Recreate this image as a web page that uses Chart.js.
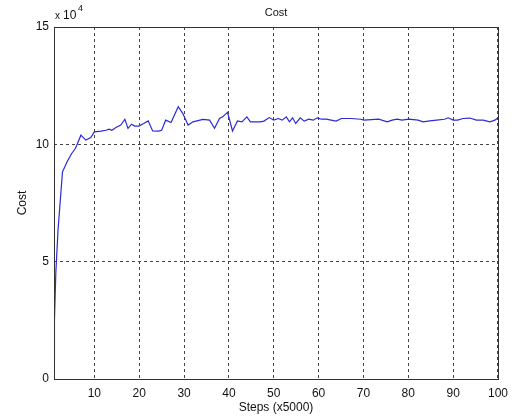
<!DOCTYPE html>
<html>
<head>
<meta charset="utf-8">
<title>Cost</title>
<script src="https://cdn.jsdelivr.net/npm/chart.js@4.4.0/dist/chart.umd.min.js"></script>
<style>
  html, body { margin: 0; padding: 0; background: #fff; }
  canvas { display: block; }
</style>
</head>
<body>
<canvas id="graficoCusto" width="515" height="419"></canvas>
<script>
// Passos (x5000) e custo (x 10^4)
const passos = [
  1.0, 1.1, 1.4, 1.9, 2.4, 2.9, 3.9, 4.9, 5.8, 7.0,
  8.1, 9.2, 10.0, 11.5, 12.6, 13.3, 13.9, 14.8, 15.9, 16.8,
  17.5, 18.3, 19.0, 19.9, 21.0, 22.0, 23.0, 24.3, 25.0, 25.9,
  27.1, 28.7, 29.7, 30.9, 32.0, 34.2, 35.7, 36.8, 37.9, 38.6,
  39.7, 40.8, 41.9, 42.9, 44.0, 44.8, 47.0, 47.8, 49.0, 50.0,
  51.0, 51.9, 52.8, 53.5, 54.2, 54.9, 55.9, 56.8, 57.8, 58.8,
  59.7, 60.6, 61.7, 62.8, 63.9, 65.1, 67.2, 69.4, 70.1, 73.4,
  75.3, 76.4, 77.5, 78.6, 80.1, 82.2, 83.3, 84.8, 86.3, 88.1,
  88.9, 90.0, 91.0, 92.2, 93.7, 95.2, 96.7, 98.2, 99.3, 100.0
];
const custo = [
  0.80, 2.50, 4.50, 6.35, 7.60, 8.83, 9.25, 9.60, 9.83, 10.39,
  10.18, 10.29, 10.53, 10.56, 10.60, 10.65, 10.60, 10.72, 10.82, 11.07,
  10.68, 10.86, 10.78, 10.78, 10.89, 11.00, 10.57, 10.56, 10.60, 11.03,
  10.93, 11.60, 11.32, 10.82, 10.96, 11.06, 11.03, 10.68, 11.10, 11.17,
  11.36, 10.57, 11.00, 10.96, 11.17, 10.96, 10.96, 10.99, 11.14, 11.03,
  11.10, 11.03, 11.17, 10.96, 11.13, 10.89, 11.13, 10.99, 11.07, 11.03,
  11.13, 11.07, 11.07, 11.03, 10.99, 11.10, 11.10, 11.07, 11.03, 11.07,
  10.96, 11.03, 11.07, 11.03, 11.07, 11.03, 10.96, 11.00, 11.03, 11.07,
  11.13, 11.03, 11.03, 11.10, 11.12, 11.03, 11.03, 10.96, 11.03, 11.13
];
const ticksX = [10, 20, 30, 40, 50, 60, 70, 80, 90, 100];
const ticksY = [0, 5, 10, 15];

document.addEventListener("DOMContentLoaded", function () {
  const ctx = document.getElementById("graficoCusto").getContext("2d");
  const familia = "'Liberation Sans', Arial, sans-serif";
  const fonte = { family: familia, size: 12 };

  // Moldura do eixo, título e expoente "x 10^4" (estilo MATLAB)
  const moldura = {
    id: "moldura",
    afterDatasetsDraw(chart) {
      const { ctx, chartArea: a } = chart;
      ctx.save();
      ctx.setLineDash([]);
      ctx.strokeStyle = "#333";
      ctx.lineWidth = 1;
      ctx.strokeRect(a.left + 0.5, a.top + 0.5, a.right - a.left, a.bottom - a.top);

      ctx.fillStyle = "#111";
      ctx.textBaseline = "alphabetic";
      ctx.textAlign = "center";
      ctx.font = "11px " + familia;
      ctx.fillText("Cost", (a.left + a.right) / 2, 16);

      ctx.textAlign = "left";
      ctx.font = "10px " + familia;
      ctx.fillText("x", a.left + 1, 19);
      ctx.font = "12px " + familia;
      ctx.fillText("10", a.left + 9, 19);
      ctx.font = "9px " + familia;
      ctx.fillText("4", a.left + 24, 11);
      ctx.restore();
    },
  };

  const dados = passos.map((p, i) => ({ x: p, y: custo[i] }));

  new Chart(ctx, {
    type: "line",
    data: {
      datasets: [
        {
          label: "Cost",
          data: dados,
          borderColor: "#2a2ad8",
          borderWidth: 1.2,
          pointRadius: 0,
          tension: 0,
          fill: false,
        },
      ],
    },
    options: {
      responsive: false,
      animation: false,
      layout: { padding: { top: 27, right: 11, bottom: 0, left: 0 } },
      plugins: {
        legend: { display: false },
        tooltip: { enabled: false },
      },
      scales: {
        x: {
          type: "linear",
          min: 1,
          max: 100,
          afterBuildTicks: (s) => { s.ticks = ticksX.map((v) => ({ value: v })); },
          afterFit: (s) => { s.height = 40; },
          grid: { color: "#444", lineWidth: 1, drawTicks: false },
          border: { display: false, dash: [3, 3] },
          ticks: { color: "#111", font: fonte, padding: 7, maxRotation: 0 },
          title: {
            display: true,
            text: "Steps (x5000)",
            color: "#111",
            font: fonte,
            padding: { top: 0, bottom: 4 },
          },
        },
        y: {
          type: "linear",
          min: 0,
          max: 15,
          afterBuildTicks: (s) => { s.ticks = ticksY.map((v) => ({ value: v })); },
          afterFit: (s) => { s.width = 54; },
          grid: { color: "#444", lineWidth: 1, drawTicks: false },
          border: { display: false, dash: [3, 3] },
          ticks: { color: "#111", font: fonte, padding: 5 },
          title: {
            display: true,
            text: "Cost",
            color: "#111",
            font: fonte,
            padding: { top: 15, bottom: 0 },
          },
        },
      },
    },
    plugins: [moldura],
  });
});
</script>
</body>
</html>
